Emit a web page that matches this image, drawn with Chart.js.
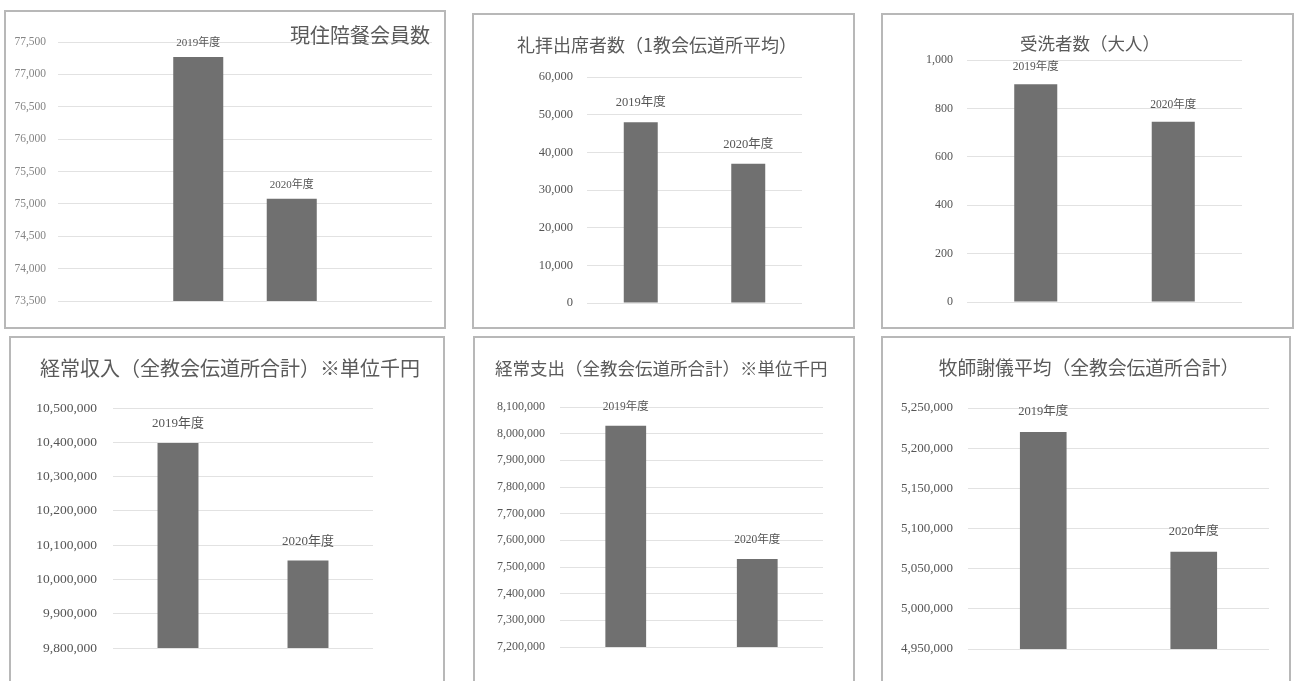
<!DOCTYPE html>
<html>
<head>
<meta charset="utf-8">
<script src="https://cdn.jsdelivr.net/npm/chart.js@4.4.1/dist/chart.umd.min.js"></script>
<style>
body { margin: 0; background: #fff; width: 1295px; height: 681px; overflow: hidden; position: relative; }
.frame { position: absolute; border: 2px solid #b8b8b8; box-sizing: border-box; }
canvas { position: absolute; }
</style>
</head>
<body>
<script>
// data
const years = ["2019年度", "2020年度"];
const membersData = [77270, 75080];
const attendanceData = [48000, 37000];
const baptismData = [900, 745];
const incomeData = [10398000, 10055000];
const expenseData = [8030000, 7530000];
const salaryData = [5220000, 5071000];
const titles = [
    "現住陪餐会員数",
    "礼拝出席者数（1教会伝道所平均）",
    "受洗者数（大人）",
    "経常収入（全教会伝道所合計）※単位千円",
    "経常支出（全教会伝道所合計）※単位千円",
    "牧師謝儀平均（全教会伝道所合計）"
];

const serif = '"Liberation Serif", "Noto Sans CJK JP", serif';
const cjk = '"Noto Sans CJK JP", sans-serif';

// layout of each panel (page pixels)
const panels = [
    { box: [4, 10, 442, 319], plot: [58, 42, 432, 301], title: titles[0], tx: 430, ty: 35, ts: 20, ta: 'right',
      labels: ["", ...years, ""], values: [null, ...membersData, null], min: 73500, max: 77500, step: 500,
      tick: 11.5, pad: 12, lab: 11, off: 14, bar: 0.535, tickColor: '#858585' },
    { box: [472, 13, 383, 316], plot: [587, 77, 802, 303], title: titles[1], tx: 657, ty: 45, ts: 18, ta: 'center',
      labels: years, values: attendanceData, min: 0, max: 60000, step: 10000,
      tick: 12.5, pad: 14, lab: 12.5, off: 19, bar: 0.316, tickColor: '#555' },
    { box: [881, 13, 413, 316], plot: [967, 60, 1242, 302], title: titles[2], tx: 1090, ty: 43, ts: 17.5, ta: 'center',
      labels: years, values: baptismData, min: 0, max: 1000, step: 200,
      tick: 12, pad: 14, lab: 11.5, off: 17, bar: 0.313, tickColor: '#555' },
    { box: [9, 336, 436, 350], plot: [113, 408, 373, 648], title: titles[3], tx: 40, ty: 368, ts: 20, ta: 'left',
      labels: years, values: incomeData, min: 9800000, max: 10500000, step: 100000,
      tick: 13.5, pad: 16, lab: 13, off: 19, bar: 0.315, tickColor: '#555' },
    { box: [473, 336, 382, 350], plot: [560, 407, 823, 647], title: titles[4], tx: 495, ty: 368, ts: 17.5, ta: 'left',
      labels: years, values: expenseData, min: 7200000, max: 8100000, step: 100000,
      tick: 12, pad: 15, lab: 11.5, off: 19, bar: 0.31, tickColor: '#555' },
    { box: [881, 336, 410, 350], plot: [968, 408, 1269, 649], title: titles[5], tx: 1089, ty: 368, ts: 18.8, ta: 'center',
      labels: years, values: salaryData, min: 4950000, max: 5250000, step: 50000,
      tick: 13, pad: 15, lab: 12.5, off: 20, bar: 0.31, tickColor: '#555' }
];

const panelTitle = {
    id: 'panelTitle',
    afterDraw(chart, args, o) {
        const ctx = chart.ctx;
        ctx.save();
        ctx.font = o.size + 'px ' + cjk;
        ctx.fillStyle = '#5a5a5a';
        ctx.textAlign = o.align;
        ctx.textBaseline = 'middle';
        ctx.fillText(o.text, o.x, o.y);
        ctx.restore();
    }
};

const barLabels = {
    id: 'barLabels',
    afterDatasetsDraw(chart, args, o) {
        const ctx = chart.ctx;
        const meta = chart.getDatasetMeta(0);
        ctx.save();
        ctx.font = o.size + 'px ' + serif;
        ctx.fillStyle = '#555';
        ctx.textAlign = 'center';
        ctx.textBaseline = 'middle';
        meta.data.forEach((bar, i) => {
            if (chart.data.datasets[0].data[i] == null) return;
            ctx.fillText(chart.data.labels[i], bar.x, bar.y - o.offset);
        });
        ctx.restore();
    }
};

panels.forEach(function(p) {
    const [bx, by, bw, bh] = p.box;
    const [pl, pt, pr, pb] = p.plot;

    const frame = document.createElement('div');
    frame.className = 'frame';
    frame.style.left = bx + 'px';
    frame.style.top = by + 'px';
    frame.style.width = bw + 'px';
    frame.style.height = bh + 'px';
    document.body.appendChild(frame);

    const cv = document.createElement('canvas');
    cv.width = bw;
    cv.height = bh;
    cv.style.left = bx + 'px';
    cv.style.top = by + 'px';
    document.body.appendChild(cv);

    const axisWidth = pl - bx;
    new Chart(cv, {
        type: 'bar',
        data: {
            labels: p.labels,
            datasets: [{
                data: p.values,
                backgroundColor: '#707070',
                categoryPercentage: 1,
                barPercentage: p.bar
            }]
        },
        options: {
            responsive: false,
            animation: false,
            locale: 'en-US',
            layout: { padding: { top: pt - by, bottom: by + bh - pb, right: bx + bw - pr, left: 0 } },
            plugins: {
                legend: { display: false },
                tooltip: { enabled: false },
                panelTitle: { text: p.title, x: p.tx - bx, y: p.ty - by, size: p.ts, align: p.ta },
                barLabels: { size: p.lab, offset: p.off }
            },
            scales: {
                x: { display: false },
                y: {
                    min: p.min,
                    max: p.max,
                    ticks: { stepSize: p.step, padding: p.pad, color: p.tickColor, font: { family: serif, size: p.tick } },
                    grid: { color: '#e2e2e2', drawTicks: false },
                    border: { display: false },
                    afterFit: function(s) { s.width = axisWidth; }
                }
            }
        },
        plugins: [panelTitle, barLabels]
    });
});
</script>
</body>
</html>
